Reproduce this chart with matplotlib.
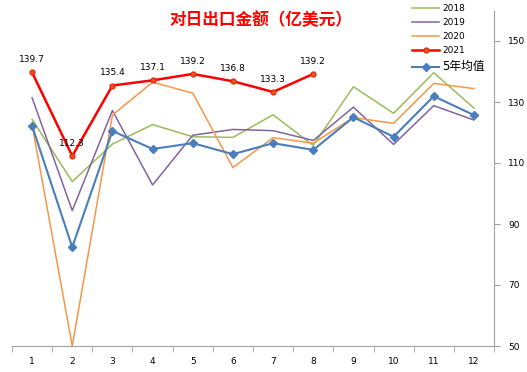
import matplotlib

matplotlib.use("Agg")

import matplotlib.pyplot as plt
import numpy as np

plt.rcParams["font.family"] = ["DejaVu Sans", "Noto Sans CJK SC"]

months = [1, 2, 3, 4, 5, 6, 7, 8, 9, 10, 11, 12]
y2018 = [124.3, 103.9, 116.2, 122.6, 118.6, 118.4, 125.8, 115.8, 135.0, 126.3, 139.6, 128.0]
y2019 = [131.4, 94.4, 127.2, 102.8, 119.1, 121.0, 120.6, 117.4, 128.3, 116.1, 128.8, 124.1]
y2020 = [122.5, 50.0, 125.7, 136.5, 132.9, 108.5, 118.3, 116.5, 124.9, 123.0, 136.1, 134.4]
y2021 = [139.7, 112.3, 135.4, 137.1, 139.2, 136.8, 133.3, 139.2]
avg5 = [122.2, 82.4, 120.5, 114.6, 116.5, 112.9, 116.5, 114.3, 125.0, 118.6, 131.9, 125.7]
y_ticks = [50, 70, 90, 110, 130, 150]

fig = plt.figure(figsize=(5.27, 3.72), dpi=100)
ax = fig.add_axes([12 / 527, 1 - 346 / 372, 482 / 527, 335.5 / 372])

ax.plot(months, y2018, color="#9BBB59", lw=1.1, label="2018")
ax.plot(months, y2019, color="#8064A2", lw=1.1, label="2019")
ax.plot(months, y2020, color="#F79646", lw=1.1, label="2020")
ax.plot(months[:len(y2021)], y2021, color="#FF0000", lw=1.8, marker="o", ms=3.5,
        mfc="#F0501E", mec="#E03010", label="2021")
ax.plot(months, avg5, color="#4A7EBB", lw=1.5, marker="D", ms=4, mfc="#4A7EBB",
        mec="#4A7EBB", label="5年均值")

for m, v in zip(months, y2021):
    ax.annotate(f"{v:.1f}", (m, v), xytext=(0, 6), textcoords="offset points",
                ha="center", va="bottom", fontsize=6.5)

ax.set_xlim(0.5, 12.5)
ax.set_ylim(50, 160)
ax.set_xticks(months)
ax.set_xticks(np.arange(0.5, 13, 1), minor=True)
ax.tick_params(axis="x", which="major", length=0, labelsize=6.5, pad=8)
ax.tick_params(axis="x", which="minor", length=4, color="#A0A0A0", direction="out")
ax.yaxis.tick_right()
ax.set_yticks(y_ticks)
ax.tick_params(axis="y", length=4, color="#A0A0A0", labelsize=6.5, direction="out", pad=6)
ax.spines["left"].set_visible(False)
ax.spines["top"].set_visible(False)
ax.spines["right"].set_color("#A0A0A0")
ax.spines["bottom"].set_color("#A0A0A0")

fig.text(261 / 527, 1 - 20 / 372, "对日出口金额（亿美元）", color="#FF0000", fontsize=12,
         fontweight="bold", family=["Noto Sans CJK SC"], ha="center", va="center")

leg = ax.legend(loc="upper left", bbox_to_anchor=(406 / 527, 1.005), bbox_transform=fig.transFigure,
                frameon=False, fontsize=6.5, handlelength=3.0, handletextpad=0.3,
                labelspacing=0.55, borderpad=0.2)
leg.get_texts()[-1].set_fontsize(8.5)

fig.savefig("out.png", dpi=100, facecolor="white")
